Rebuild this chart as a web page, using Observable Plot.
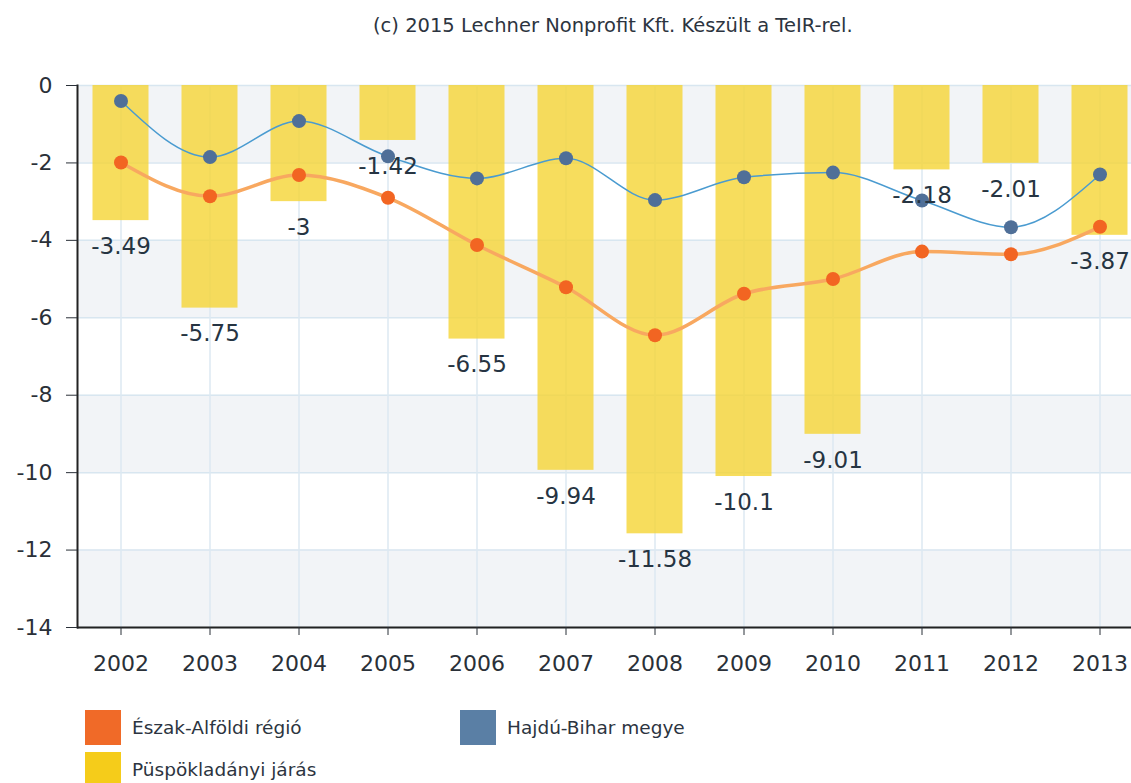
<!DOCTYPE html>
<html>
<head>
<meta charset="utf-8">
<script src="https://cdn.jsdelivr.net/npm/d3@7"></script>
<script src="https://cdn.jsdelivr.net/npm/@observablehq/plot@0.6"></script>
<style>
  html, body { margin: 0; padding: 0; background: #fff; overflow: hidden; }
  #wrap { position: relative; width: 1131px; height: 783px; font-family: "DejaVu Sans", sans-serif; }
  #title { position: absolute; top: 14px; left: 373px; font-size: 19.5px; line-height: 24px; color: #2c3440; white-space: nowrap; }
  #chart { position: absolute; top: 0; left: 0; }
  .lg { position: absolute; display: flex; align-items: center; font-size: 18.5px; color: #2c3440; white-space: nowrap; }
  .sw { width: 36px; height: 35px; margin-right: 11px; }
</style>
</head>
<body>
<div id="wrap">
  <div id="chart"></div>
  <div id="title">(c) 2015 Lechner Nonprofit Kft. Készült a TeIR-rel.</div>
  <div id="legend"></div>
</div>
<script>
const years = ["2002","2003","2004","2005","2006","2007","2008","2009","2010","2011","2012","2013"];
const puspokladanyi = [-3.49, -5.75, -3, -1.42, -6.55, -9.94, -11.58, -10.1, -9.01, -2.18, -2.01, -3.87];
const eszakAlfoldi = [-1.99, -2.86, -2.31, -2.9, -4.12, -5.21, -6.45, -5.38, -5.0, -4.29, -4.36, -3.65];
const hajduBihar = [-0.40, -1.85, -0.92, -1.83, -2.40, -1.88, -2.96, -2.37, -2.25, -2.97, -3.66, -2.30];
const yTicks = [0, -2, -4, -6, -8, -10, -12, -14];
const seriesNames = ["Észak-Alföldi régió", "Hajdú-Bihar megye", "Püspökladányi járás"];
const seriesColors = ["#f06a28", "#5a7fa5", "#f5cc1a"];

const bars = years.map((y, i) => ({year: y, value: puspokladanyi[i]}));
const orange = years.map((y, i) => ({year: y, value: eszakAlfoldi[i]}));
const blue = years.map((y, i) => ({year: y, value: hajduBihar[i]}));
// shaded bands between every other pair of ticks
const bands = [];
for (let i = 0; i + 1 < yTicks.length; i += 2) bands.push({y1: yTicks[i], y2: yTicks[i + 1]});

const chart = Plot.plot({
  width: 1131,
  height: 700,
  marginTop: 85,
  marginBottom: 73,
  marginLeft: 77,
  marginRight: 0,
  style: {fontFamily: "DejaVu Sans, sans-serif", background: "transparent", overflow: "hidden"},
  x: {type: "band", domain: years, range: [75.5, 1143.5], padding: 0, label: null},
  y: {domain: [-14, 0], label: null},
  marks: [
    Plot.rect(bands, {y1: "y1", y2: "y2", fill: "#f2f4f7"}),
    Plot.ruleY(yTicks, {stroke: "#d8e6f0", strokeWidth: 1.5}),
    Plot.ruleX(years, {x: d => d, stroke: "#dde9f2", strokeWidth: 1.5}),
    Plot.barY(bars, {x: "year", y: "value", fill: "#f5d535", fillOpacity: 0.8, insetLeft: 16.5, insetRight: 16.5}),
    Plot.line(orange, {x: "year", y: "value", stroke: "#f8a860", strokeWidth: 3.5, curve: "monotone-x"}),
    Plot.dot(orange, {x: "year", y: "value", r: 7, fill: "#f26522"}),
    Plot.line(blue, {x: "year", y: "value", stroke: "#4a9bd0", strokeWidth: 1.5, curve: "monotone-x"}),
    Plot.dot(blue, {x: "year", y: "value", r: 7, fill: "#4f6f98"}),
    Plot.text(bars, {x: "year", y: "value", text: d => String(d.value), dy: 26, fontSize: 23, fill: "#263442"}),
    Plot.ruleY([-14], {stroke: "#222", strokeWidth: 2}),
    Plot.frame({anchor: "left", stroke: "#222", strokeWidth: 2}),
    Plot.axisY(yTicks, {tickSize: 11, tickPadding: 14, fontSize: 22, color: "#2a3038", tickFormat: d => String(d)}),
    Plot.axisX({tickSize: 8, tickPadding: 20, fontSize: 22, color: "#2a3038", label: null})
  ]
});
document.getElementById("chart").appendChild(chart);

const legendPos = [{left: 85, top: 710}, {left: 460, top: 710}, {left: 85, top: 752}];
const legend = document.getElementById("legend");
seriesNames.forEach((name, i) => {
  const d = document.createElement("div");
  d.className = "lg";
  d.style.left = legendPos[i].left + "px";
  d.style.top = legendPos[i].top + "px";
  d.innerHTML = `<div class="sw" style="background:${seriesColors[i]}"></div><span>${name}</span>`;
  legend.appendChild(d);
});
</script>
</body>
</html>
